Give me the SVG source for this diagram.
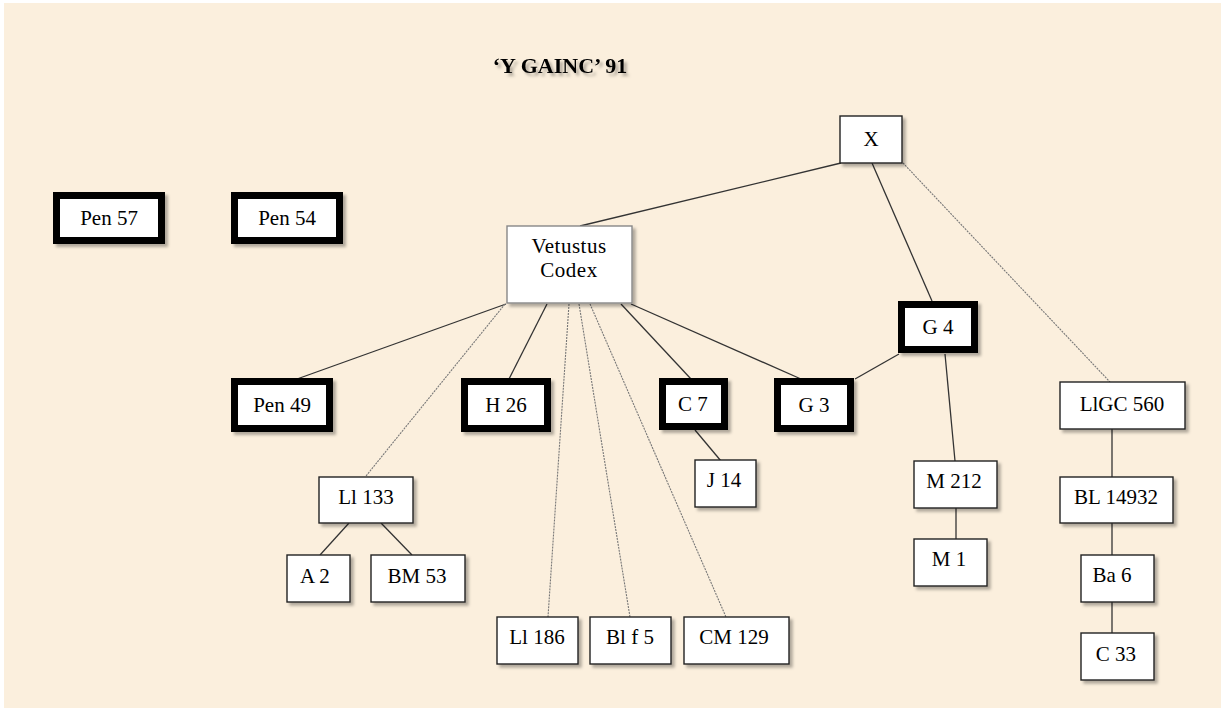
<svg xmlns="http://www.w3.org/2000/svg" width="1225" height="711" viewBox="0 0 1225 711">
<defs>
<filter id="sh" x="-20%" y="-20%" width="150%" height="160%">
<feDropShadow dx="3" dy="3" stdDeviation="1.5" flood-color="#000" flood-opacity="0.3"/>
</filter>
<style>
.bg{fill:#FBEFDD}
.n{fill:#fff;stroke:#222;stroke-width:1.4;filter:url(#sh)}
.nv{fill:#fff;stroke:#888;stroke-width:1.4;filter:url(#sh)}
.k{fill:#fff;stroke:#000;stroke-width:7;filter:url(#sh)}
.t{font-family:"Liberation Serif","Times New Roman",serif;font-size:21px;fill:#000;text-anchor:middle}
.title{font-family:"Liberation Serif","Times New Roman",serif;font-size:22px;font-weight:bold;fill:#000;text-anchor:middle}
.s{stroke:#333;stroke-width:1.3;fill:none}
.d{stroke:#777;stroke-width:1.1;stroke-dasharray:2 1;fill:none}
</style>
</defs>
<rect x="0" y="0" width="1225" height="711" fill="#fff"/>
<rect class="bg" x="4" y="3" width="1217" height="705"/>
<text class="title" x="560" y="73" filter="url(#sh)">‘Y GAINC’ 91</text>
<g id="connectors">
<line class="s" x1="841" y1="163" x2="580" y2="226"/>
<line class="s" x1="872" y1="163" x2="932" y2="301"/>
<line class="d" x1="903" y1="163" x2="1110" y2="382"/>
<line class="s" x1="506" y1="304" x2="297" y2="379"/>
<line class="d" x1="505" y1="304" x2="366" y2="476"/>
<line class="s" x1="547" y1="304" x2="509" y2="379"/>
<line class="d" x1="569" y1="304" x2="548" y2="617"/>
<line class="d" x1="579" y1="304" x2="630" y2="617"/>
<line class="d" x1="590" y1="304" x2="726" y2="617"/>
<line class="s" x1="621" y1="304" x2="691" y2="379"/>
<line class="s" x1="631" y1="304" x2="801" y2="379"/>
<line class="s" x1="855" y1="379" x2="899" y2="354"/>
<line class="s" x1="945" y1="354" x2="955" y2="461"/>
<line class="s" x1="956" y1="508" x2="956" y2="539"/>
<line class="s" x1="1112" y1="429" x2="1112" y2="477"/>
<line class="s" x1="1112" y1="523" x2="1112" y2="555"/>
<line class="s" x1="1112" y1="602" x2="1112" y2="633"/>
<line class="s" x1="695" y1="430" x2="721" y2="461"/>
<line class="s" x1="349" y1="523" x2="320" y2="555"/>
<line class="s" x1="381" y1="523" x2="412" y2="555"/>
</g>
<g id="pen57"><rect class="k" x="56.5" y="195.5" width="105" height="45"/><text class="t" x="109" y="225">Pen 57</text></g>
<g id="pen54"><rect class="k" x="234.5" y="195.5" width="105" height="45"/><text class="t" x="287" y="225">Pen 54</text></g>
<g id="x"><rect class="n" x="840" y="116" width="62" height="47"/><text class="t" x="871" y="146">X</text></g>
<g id="vetustus"><rect class="nv" x="507" y="226" width="125" height="77"/><text class="t" x="569" y="253" letter-spacing="0.5">Vetustus</text><text class="t" x="569" y="277" letter-spacing="0.5">Codex</text></g>
<g id="g4"><rect class="k" x="901.5" y="304.5" width="73" height="45"/><text class="t" x="938" y="334">G 4</text></g>
<g id="pen49"><rect class="k" x="234.5" y="381.5" width="95" height="47"/><text class="t" x="282" y="412">Pen 49</text></g>
<g id="h26"><rect class="k" x="464.5" y="381.5" width="83" height="47"/><text class="t" x="506" y="412">H 26</text></g>
<g id="c7"><rect class="k" x="662.5" y="381.5" width="62" height="45"/><text class="t" x="693" y="411">C 7</text></g>
<g id="g3"><rect class="k" x="777.5" y="381.5" width="73" height="47"/><text class="t" x="814" y="412">G 3</text></g>
<g id="llgc560"><rect class="n" x="1060" y="382" width="125" height="47"/><text class="t" x="1122" y="411">LlGC 560</text></g>
<g id="ll133"><rect class="n" x="319" y="477" width="94" height="46"/><text class="t" x="366" y="504">Ll 133</text></g>
<g id="j14"><rect class="n" x="695" y="460" width="61" height="47"/><text class="t" x="724" y="487">J 14</text></g>
<g id="m212"><rect class="n" x="914" y="461" width="83" height="47"/><text class="t" x="954" y="488">M 212</text></g>
<g id="bl14932"><rect class="n" x="1060" y="477" width="113" height="46"/><text class="t" x="1116" y="504">BL 14932</text></g>
<g id="a2"><rect class="n" x="287" y="555" width="63" height="47"/><text class="t" x="315" y="583">A 2</text></g>
<g id="bm53"><rect class="n" x="371" y="555" width="94" height="47"/><text class="t" x="417" y="583">BM 53</text></g>
<g id="m1"><rect class="n" x="914" y="539" width="73" height="47"/><text class="t" x="949" y="566">M 1</text></g>
<g id="ba6"><rect class="n" x="1081" y="555" width="73" height="47"/><text class="t" x="1112" y="582">Ba 6</text></g>
<g id="ll186"><rect class="n" x="497" y="617" width="81" height="47"/><text class="t" x="537" y="644">Ll 186</text></g>
<g id="blf5"><rect class="n" x="590" y="617" width="81" height="47"/><text class="t" x="630" y="644">Bl f 5</text></g>
<g id="cm129"><rect class="n" x="684" y="617" width="105" height="47"/><text class="t" x="734" y="644">CM 129</text></g>
<g id="c33"><rect class="n" x="1081" y="633" width="73" height="47"/><text class="t" x="1116" y="661">C 33</text></g>
</svg>
